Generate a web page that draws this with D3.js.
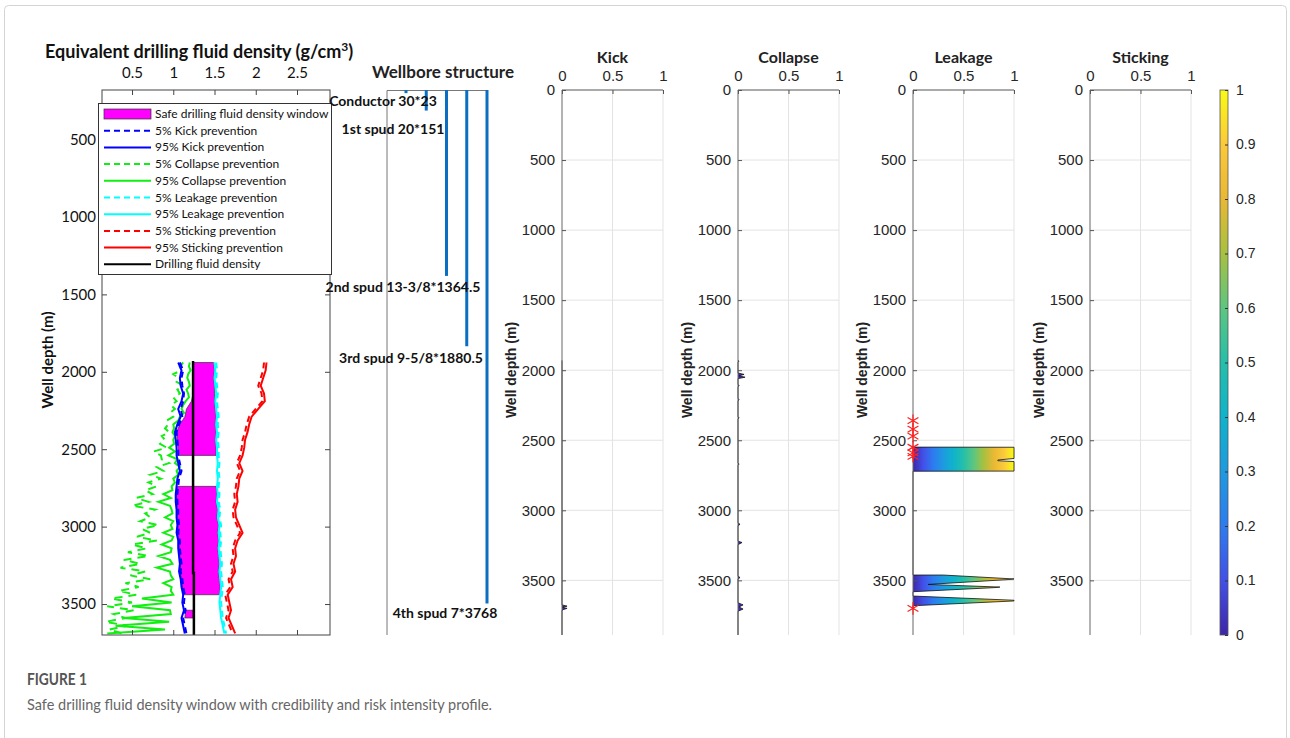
<!DOCTYPE html>
<html>
<head>
<meta charset="utf-8">
<script src="https://cdn.jsdelivr.net/npm/d3@7"></script>
<style>
  body { margin: 0; background: #fff; }
</style>
</head>
<body>
<div id="fig"></div>
<script>
// Paramètres de la figure
const width = 1290;
const height = 738;
const calibri = "Lato, 'Open Sans', sans-serif";
const arial = "'Liberation Sans', Arial, sans-serif";

// profondeurs communes des courbes du panneau de gauche (m)
const depth = [1940, 1990, 2040, 2090, 2140, 2190, 2240, 2290, 2340, 2390, 2440, 2490,
  2540, 2590, 2640, 2690, 2740, 2790, 2840, 2890, 2940, 2990, 3040, 3090,
  3140, 3190, 3240, 3290, 3340, 3390, 3440, 3490, 3540, 3590, 3640, 3690];

const kick5 = [1.08, 1.12, 1.10, 1.11, 1.13, 1.12, 1.09, 1.11, 1.07, 1.04, 1.05, 1.06,
  1.06, 1.08, 1.10, 1.07, 1.06, 1.05, 1.05, 1.06, 1.06, 1.07, 1.06, 1.08,
  1.08, 1.09, 1.10, 1.09, 1.11, 1.12, 1.14, 1.13, 1.15, 1.12, 1.14, 1.16];
const kick95 = [1.06, 1.10, 1.08, 1.09, 1.12, 1.10, 1.06, 1.09, 1.05, 1.02, 1.03, 1.04,
  1.04, 1.06, 1.08, 1.05, 1.04, 1.03, 1.03, 1.04, 1.04, 1.05, 1.04, 1.06,
  1.06, 1.07, 1.08, 1.07, 1.09, 1.10, 1.12, 1.11, 1.13, 1.10, 1.12, 1.14];
const leak5 = [1.52, 1.53, 1.52, 1.53, 1.54, 1.53, 1.54, 1.55, 1.54, 1.55, 1.54, 1.55,
  1.55, 1.56, 1.55, 1.56, 1.55, 1.56, 1.55, 1.57, 1.56, 1.58, 1.57, 1.58,
  1.57, 1.58, 1.59, 1.58, 1.59, 1.60, 1.59, 1.58, 1.59, 1.60, 1.62, 1.64];
const leak95 = [1.50, 1.51, 1.50, 1.51, 1.52, 1.51, 1.52, 1.53, 1.52, 1.53, 1.52, 1.53,
  1.53, 1.54, 1.53, 1.54, 1.53, 1.54, 1.53, 1.55, 1.54, 1.56, 1.55, 1.56,
  1.55, 1.56, 1.57, 1.56, 1.57, 1.58, 1.57, 1.56, 1.57, 1.58, 1.60, 1.62];
const stick5 = [2.10, 2.09, 2.06, 2.03, 2.07, 2.08, 2.00, 1.92, 1.89, 1.87, 1.84, 1.83,
  1.81, 1.77, 1.81, 1.77, 1.76, 1.74, 1.75, 1.72, 1.73, 1.77, 1.81, 1.75,
  1.72, 1.73, 1.70, 1.72, 1.67, 1.69, 1.63, 1.65, 1.67, 1.64, 1.68, 1.72];
const stick95 = [2.13, 2.12, 2.09, 2.06, 2.10, 2.11, 2.03, 1.95, 1.92, 1.90, 1.87, 1.86,
  1.84, 1.80, 1.84, 1.80, 1.79, 1.77, 1.78, 1.75, 1.76, 1.80, 1.84, 1.78,
  1.75, 1.76, 1.73, 1.75, 1.70, 1.72, 1.66, 1.68, 1.70, 1.67, 1.71, 1.75];

// courbes d'effondrement, plus bruitées (pas de 25 m)
const collapseCurveDepth = [1940, 1965, 1990, 2015, 2040, 2065, 2090, 2115, 2140, 2165, 2190, 2215,
  2240, 2265, 2290, 2315, 2340, 2365, 2390, 2415, 2440, 2465, 2490, 2515,
  2540, 2565, 2590, 2615, 2640, 2665, 2690, 2715, 2740, 2765, 2790, 2815,
  2840, 2865, 2890, 2915, 2940, 2965, 2990, 3015, 3040, 3065, 3090, 3115,
  3140, 3165, 3190, 3215, 3240, 3265, 3290, 3315, 3340, 3365, 3390, 3415,
  3440, 3465, 3490, 3515, 3540, 3565, 3590, 3615, 3640, 3665, 3690];
const collapse5 = [1.12, 1.08, 1.10, 1.00, 1.06, 1.04, 1.12, 1.05, 1.08, 1.00, 1.04, 0.97,
  1.02, 0.96, 1.00, 0.92, 0.94, 0.90, 0.95, 0.86, 0.90, 0.84, 0.92, 0.76,
  0.85, 0.86, 0.95, 0.80, 0.88, 0.72, 0.85, 0.70, 0.80, 0.66, 0.75, 0.55,
  0.70, 0.50, 0.78, 0.66, 0.72, 0.60, 0.82, 0.62, 0.72, 0.56, 0.80, 0.50,
  0.68, 0.45, 0.70, 0.40, 0.60, 0.36, 0.66, 0.48, 0.72, 0.42, 0.58, 0.34,
  0.55, 0.25, 0.50, 0.20, 0.52, 0.28, 0.42, 0.18, 0.44, 0.22, 0.38];
const collapse95 = [1.20, 1.19, 1.21, 1.18, 1.17, 1.19, 1.20, 1.16, 1.18, 1.19, 1.15, 1.12,
  1.10, 1.13, 1.08, 1.06, 1.00, 1.01, 0.99, 1.02, 1.00, 1.01, 0.95, 1.02,
  0.94, 1.05, 1.02, 1.08, 1.04, 1.06, 1.00, 1.02, 0.98, 0.99, 0.88, 0.97,
  0.82, 0.96, 0.98, 0.99, 0.90, 1.00, 0.97, 0.99, 0.88, 1.00, 0.98, 0.86,
  0.98, 0.97, 0.82, 0.96, 0.99, 0.80, 0.96, 0.97, 1.00, 0.88, 0.98, 0.97,
  1.00, 0.62, 0.98, 0.50, 0.96, 0.97, 0.40, 0.95, 0.30, 0.90, 0.20];

// fenêtre de densité sûre (null = pas de fenêtre)
const windowLow = [1.24, 1.24, 1.24, 1.24, 1.24, 1.22, 1.16, 1.14, 1.08, 1.04, 1.05, 1.06,
  1.06, null, null, null, 1.05, 1.04, 1.04, 1.05, 1.05, 1.06, 1.05, 1.07,
  1.07, 1.08, 1.09, 1.08, 1.10, 1.11, 1.13, null, 1.15, 1.14, null, null];
const windowHigh = [1.49, 1.50, 1.49, 1.50, 1.50, 1.50, 1.51, 1.52, 1.51, 1.52, 1.51, 1.52,
  1.52, null, null, null, 1.52, 1.53, 1.52, 1.54, 1.53, 1.55, 1.54, 1.55,
  1.54, 1.55, 1.56, 1.55, 1.56, 1.57, 1.56, null, 1.24, 1.24, null, null];

const fluidDepth = [1930, 3300, 3300, 3700];
const fluidDensity = [1.24, 1.24, 1.25, 1.25];

const legendLabels = ["Safe drilling fluid density window", "5% Kick prevention", "95% Kick prevention",
  "5% Collapse prevention", "95% Collapse prevention", "5% Leakage prevention",
  "95% Leakage prevention", "5% Sticking prevention", "95% Sticking prevention",
  "Drilling fluid density"];

// structure du puits
const casingNames = ["Conductor 30*23", "1st spud 20*151", "2nd spud 13-3/8*1364.5",
  "3rd spud 9-5/8*1880.5", "4th spud 7*3768"];
const casingDepth = [23, 151, 1364.5, 1880.5, 3768];

// intensité de risque
const riskTitles = ["Kick", "Collapse", "Leakage", "Sticking"];
const kickDepth = [1930, 3675, 3684, 3692, 3700, 3710, 3720, 3890];
const kickRisk = [0, 0, 0.05, 0.005, 0.05, 0.005, 0, 0];
const collapseDepth = [1930, 1935, 1945, 2020, 2030, 2040, 2050, 2060, 2100, 2110, 2120, 2200, 2210,
  2220, 2330, 2340, 2350, 2660, 2670, 2680, 3090, 3100, 3110, 3220, 3230, 3245, 3470, 3480,
  3490, 3660, 3675, 3690, 3705, 3720, 3890];
const collapseRisk = [0, 0.01, 0, 0, 0.06, 0.01, 0.07, 0, 0, 0.01, 0, 0, 0.01,
  0, 0, 0.01, 0, 0, 0.01, 0, 0, 0.02, 0, 0, 0.04, 0, 0, 0.02,
  0, 0, 0.05, 0.01, 0.05, 0, 0];
const leakDepth = [2549, 2550, 2630, 2641, 2646, 2652, 2720, 2721, 3462, 3462, 3490, 3494,
  3529, 3548, 3552, 3581, 3612, 3642, 3647, 3681, 3690];
const leakRisk = [0, 1, 1, 0.84, 0.84, 1, 1, 0, 0, 0.3, 1, 0.95,
  0.15, 0.86, 0.8, 0, 0, 1, 1, 0, 0];
const leakStars = [2360, 2420, 2470, 2550, 2590, 2615, 3700];
const stickDepth = [];
const stickRisk = [];

const colorbarTicks = [0, 0.1, 0.2, 0.3, 0.4, 0.5, 0.6, 0.7, 0.8, 0.9, 1];
const parula = ['#3e26a8', '#4250e8', '#2d7bf0', '#1e9ae0', '#0fb3cc', '#25bfaa',
  '#5cc680', '#a8c040', '#e8b835', '#fcc93a', '#f9fb15'];

const svg = d3.select('#fig').append('svg')
  .attr('width', width)
  .attr('height', height);
const defs = svg.append('defs');

// cadre de la figure
svg.append('rect')
  .attr('x', 4.5).attr('y', 5.5)
  .attr('width', 1282).attr('height', 760)
  .attr('rx', 4)
  .style('fill', 'none').style('stroke', '#d4d4d4');

// ---------- panneau de gauche ----------
const xL = d3.scaleLinear().domain([0.136, 2.9]).range([102, 330]);
const yL = d3.scaleLinear().domain([180, 3700]).range([90, 635]);

defs.append('clipPath').attr('id', 'clipL')
  .append('rect').attr('x', 102).attr('y', 90).attr('width', 228).attr('height', 545);

const left = svg.append('g');
const plotL = left.append('g').attr('clip-path', 'url(#clipL)');

const windowArea = d3.area()
  .defined((d, i) => windowLow[i] !== null)
  .y(d => yL(d))
  .x0((d, i) => xL(windowLow[i]))
  .x1((d, i) => xL(windowHigh[i]));

plotL.append('path')
  .datum(depth)
  .attr('d', windowArea)
  .style('fill', '#ff00ff')
  .style('stroke', '#333')
  .style('stroke-width', 0.7);

const series = [
  {depth: collapseCurveDepth, values: collapse5, color: '#11ee11', dash: '8,6'},
  {depth: collapseCurveDepth, values: collapse95, color: '#11ee11', dash: null},
  {depth: depth, values: kick5, color: '#0000ff', dash: '6,4'},
  {depth: depth, values: kick95, color: '#0000ff', dash: null},
  {depth: depth, values: leak5, color: '#00ffff', dash: '6,4'},
  {depth: depth, values: leak95, color: '#00ffff', dash: null},
  {depth: depth, values: stick5, color: '#ff0000', dash: '6,4'},
  {depth: depth, values: stick95, color: '#ff0000', dash: null}
];

series.forEach(s => {
  plotL.append('path')
    .datum(s.depth)
    .attr('d', d3.line().x((d, i) => xL(s.values[i])).y(d => yL(d)))
    .style('fill', 'none')
    .style('stroke', s.color)
    .style('stroke-width', 2)
    .style('stroke-dasharray', s.dash);
});

plotL.append('path')
  .datum(fluidDepth)
  .attr('d', d3.line().x((d, i) => xL(fluidDensity[i])).y(d => yL(d)))
  .style('fill', 'none')
  .style('stroke', '#000')
  .style('stroke-width', 2.5);

// axes du panneau de gauche
const depthTicksL = [500, 1000, 1500, 2000, 2500, 3000, 3500];
const densTicks = [0.5, 1, 1.5, 2, 2.5];

left.append('rect')
  .attr('x', 102).attr('y', 90).attr('width', 228).attr('height', 545)
  .style('fill', 'none').style('stroke', '#444').style('stroke-width', 1);

left.append('g')
  .attr('transform', 'translate(0,90)')
  .call(d3.axisTop(xL).tickValues(densTicks).tickSize(-5).tickSizeOuter(0).tickPadding(12).tickFormat(d3.format('')))
  .call(g => g.select('.domain').remove())
  .call(g => g.selectAll('line').style('stroke', '#444'))
  .call(g => g.selectAll('text').style('font', `15px ${calibri}`).style('fill', '#111'));

left.append('g')
  .attr('transform', 'translate(0,635)')
  .call(d3.axisBottom(xL).tickValues(densTicks).tickSize(-5).tickSizeOuter(0).tickFormat(''))
  .call(g => g.select('.domain').remove())
  .call(g => g.selectAll('line').style('stroke', '#444'));

left.append('g')
  .attr('transform', 'translate(102,0)')
  .call(d3.axisLeft(yL).tickValues(depthTicksL).tickSize(-5).tickSizeOuter(0).tickPadding(6).tickFormat(d3.format('d')))
  .call(g => g.select('.domain').remove())
  .call(g => g.selectAll('line').style('stroke', '#444'))
  .call(g => g.selectAll('text').style('font', `15px ${calibri}`).style('fill', '#111'));

left.append('g')
  .attr('transform', 'translate(330,0)')
  .call(d3.axisRight(yL).tickValues(depthTicksL).tickSize(-5).tickSizeOuter(0).tickFormat(''))
  .call(g => g.select('.domain').remove())
  .call(g => g.selectAll('line').style('stroke', '#444'));

const titleL = left.append('text')
  .attr('x', 45).attr('y', 58)
  .style('font', `bold 18px ${calibri}`)
  .style('fill', '#111');
titleL.append('tspan').text('Equivalent drilling fluid density (g/cm');
titleL.append('tspan').attr('dy', -7).style('font-size', '12px').text('3');
titleL.append('tspan').attr('dy', 7).text(')');

left.append('text')
  .attr('transform', 'translate(53,360) rotate(-90)')
  .attr('text-anchor', 'middle')
  .style('font', `bold 15px ${calibri}`)
  .style('fill', '#111')
  .text('Well depth (m)');

// légende
const legend = left.append('g');
legend.append('rect')
  .attr('x', 98.5).attr('y', 103.5).attr('width', 233).attr('height', 171)
  .style('fill', '#fff').style('stroke', '#333');

const legendStyles = [
  null,
  {color: '#0000ff', dash: '6,4'}, {color: '#0000ff', dash: null},
  {color: '#11ee11', dash: '6,4'}, {color: '#11ee11', dash: null},
  {color: '#00ffff', dash: '6,4'}, {color: '#00ffff', dash: null},
  {color: '#ff0000', dash: '6,4'}, {color: '#ff0000', dash: null},
  {color: '#000', dash: null}
];

legendLabels.forEach((label, i) => {
  const y = 114 + i * 16.7;
  if (i === 0) {
    legend.append('rect')
      .attr('x', 104).attr('y', y - 5).attr('width', 47).attr('height', 10)
      .style('fill', '#ff00ff').style('stroke', '#333').style('stroke-width', 0.7);
  } else {
    legend.append('line')
      .attr('x1', 104).attr('x2', 151).attr('y1', y).attr('y2', y)
      .style('stroke', legendStyles[i].color)
      .style('stroke-width', 2)
      .style('stroke-dasharray', legendStyles[i].dash);
  }
  legend.append('text')
    .attr('x', 155).attr('y', y + 4)
    .style('font', `12px ${calibri}`)
    .style('fill', '#111')
    .text(label);
});

// ---------- structure du puits ----------
const yW = d3.scaleLinear().domain([0, 4000]).range([90, 635]);
const xW = d3.scalePoint().domain(casingNames).range([406, 487]);
const labelCx = [383, 393, 403, 411, 445];
const labelDy = [13, 23, 16, 17, 15];

const well = svg.append('g');
well.append('path')
  .attr('d', 'M387,635V90.5H487')
  .style('fill', 'none').style('stroke', '#777');

well.selectAll('line.casing')
  .data(casingNames)
  .join('line')
    .attr('class', 'casing')
    .attr('x1', d => xW(d)).attr('x2', d => xW(d))
    .attr('y1', yW(0))
    .attr('y2', (d, i) => yW(casingDepth[i]))
    .style('stroke', '#0a6fc2')
    .style('stroke-width', 3);

well.selectAll('text.casing')
  .data(casingNames)
  .join('text')
    .attr('class', 'casing')
    .attr('x', (d, i) => labelCx[i])
    .attr('y', (d, i) => yW(casingDepth[i]) + labelDy[i])
    .attr('text-anchor', 'middle')
    .style('font', `bold 14px ${calibri}`)
    .style('fill', '#111')
    .text(d => d);

well.append('text')
  .attr('x', 443).attr('y', 78)
  .attr('text-anchor', 'middle')
  .style('font', `bold 17px ${calibri}`)
  .style('fill', '#222')
  .text('Wellbore structure');

// ---------- panneaux d'intensité de risque ----------
const yR = d3.scaleLinear().domain([0, 3890]).range([90, 635]);
const panelX = [562, 738, 913, 1090];
const riskData = [
  {depth: kickDepth, risk: kickRisk},
  {depth: collapseDepth, risk: collapseRisk},
  {depth: leakDepth, risk: leakRisk},
  {depth: stickDepth, risk: stickRisk}
];
const depthTicksR = [0, 500, 1000, 1500, 2000, 2500, 3000, 3500];

riskTitles.forEach((title, p) => {
  const x = d3.scaleLinear().domain([0, 1]).range([panelX[p], panelX[p] + 101]);
  const g = svg.append('g');

  const grad = defs.append('linearGradient')
    .attr('id', 'grad' + p)
    .attr('gradientUnits', 'userSpaceOnUse')
    .attr('x1', x(0)).attr('x2', x(1)).attr('y1', 0).attr('y2', 0);
  parula.forEach((c, i) => grad.append('stop')
    .attr('offset', i / (parula.length - 1)).attr('stop-color', c));

  // grille
  g.selectAll('line.hgrid')
    .data(depthTicksR.slice(1))
    .join('line')
      .attr('class', 'hgrid')
      .attr('x1', x(0)).attr('x2', x(1))
      .attr('y1', d => yR(d)).attr('y2', d => yR(d))
      .style('stroke', '#e3e3e3');
  g.selectAll('line.vgrid')
    .data([0.5, 1])
    .join('line')
      .attr('class', 'vgrid')
      .attr('x1', d => x(d)).attr('x2', d => x(d))
      .attr('y1', yR(0)).attr('y2', 635)
      .style('stroke', '#e3e3e3');

  const rd = riskData[p];
  if (rd.depth.length) {
    g.append('path')
      .datum(rd.depth)
      .attr('d', d3.area().y(d => yR(d)).x0(x(0)).x1((d, i) => x(rd.risk[i])))
      .style('fill', `url(#grad${p})`);
    g.append('path')
      .datum(rd.depth)
      .attr('d', d3.line().y(d => yR(d)).x((d, i) => x(rd.risk[i])))
      .style('fill', 'none')
      .style('stroke', '#111')
      .style('stroke-width', 0.8);
  }

  g.append('g')
    .attr('transform', 'translate(0,90)')
    .call(d3.axisTop(x).tickValues([0, 0.5, 1]).tickSize(-4).tickSizeOuter(0).tickPadding(9).tickFormat(d3.format('')))
    .call(g => g.select('.domain').attr('d', `M${x(0)},0H${x(1)}`).style('stroke', '#555'))
    .call(g => g.selectAll('line').style('stroke', '#555'))
    .call(g => g.selectAll('text').style('font', `15px ${arial}`).style('fill', '#262626'));

  g.append('g')
    .attr('transform', `translate(${x(0)},0)`)
    .call(d3.axisLeft(yR).tickValues(depthTicksR).tickSize(-4).tickSizeOuter(0).tickPadding(7).tickFormat(d3.format('d')))
    .call(g => g.select('.domain').attr('d', 'M0,90V635').style('stroke', '#666'))
    .call(g => g.selectAll('line').style('stroke', '#555'))
    .call(g => g.selectAll('text').style('font', `15px ${arial}`).style('fill', '#262626'));

  g.append('text')
    .attr('x', x(0.5)).attr('y', 63)
    .attr('text-anchor', 'middle')
    .style('font', `bold 16px ${calibri}`)
    .style('fill', '#222')
    .text(title);

  g.append('text')
    .attr('transform', `translate(${x(0) - 46},370) rotate(-90)`)
    .attr('text-anchor', 'middle')
    .style('font', `bold 14px ${arial}`)
    .style('fill', '#222')
    .text('Well depth (m)');

  if (p === 2) {
    g.selectAll('path.star')
      .data(leakStars)
      .join('path')
        .attr('class', 'star')
        .attr('transform', d => `translate(${x(0)},${yR(d)})`)
        .attr('d', d3.symbol(d3.symbolAsterisk, 110))
        .style('fill', 'none')
        .style('stroke', '#ff2020')
        .style('stroke-width', 1.2);
  }
});

// ---------- barre de couleur ----------
const yC = d3.scaleLinear().domain([0, 1]).range([635, 90]);
const cgrad = defs.append('linearGradient')
  .attr('id', 'cbar')
  .attr('x1', 0).attr('x2', 0).attr('y1', 1).attr('y2', 0);
parula.forEach((c, i) => cgrad.append('stop')
  .attr('offset', i / (parula.length - 1)).attr('stop-color', c));

const cbar = svg.append('g');
cbar.append('rect')
  .attr('x', 1220).attr('y', yC(1)).attr('width', 8).attr('height', yC(0) - yC(1))
  .style('fill', 'url(#cbar)').style('stroke', '#555').style('stroke-width', 0.8);
cbar.append('g')
  .attr('transform', 'translate(1228,0)')
  .call(d3.axisRight(yC).tickValues(colorbarTicks).tickSize(-3).tickSizeOuter(0).tickPadding(8).tickFormat(d3.format('')))
  .call(g => g.select('.domain').remove())
  .call(g => g.selectAll('line').style('stroke', '#333'))
  .call(g => g.selectAll('text').style('font', `14px ${arial}`).style('fill', '#262626'));

// ---------- légende de la figure ----------
svg.append('text')
  .attr('x', 27).attr('y', 685)
  .attr('textLength', 60)
  .attr('lengthAdjust', 'spacingAndGlyphs')
  .style('font', `bold 17px ${calibri}`)
  .style('fill', '#555')
  .text('FIGURE 1');
svg.append('text')
  .attr('x', 27).attr('y', 710)
  .attr('textLength', 465)
  .attr('lengthAdjust', 'spacingAndGlyphs')
  .style('font', `16px ${calibri}`)
  .style('fill', '#666')
  .text('Safe drilling fluid density window with credibility and risk intensity profile.');
</script>
</body>
</html>
